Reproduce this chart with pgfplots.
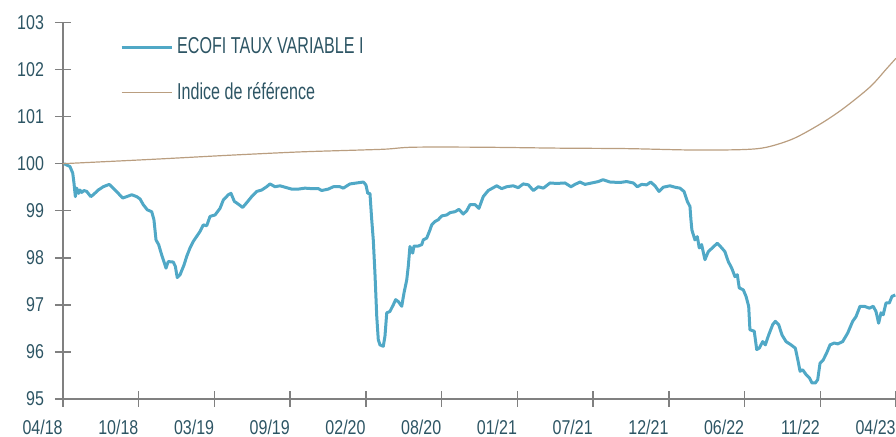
\documentclass[border=0pt]{standalone}
\usepackage{pgfplots}
\pgfplotsset{compat=1.18}
\usepackage{fontspec}
\setmainfont{Liberation Sans}[FakeStretch=0.8]
\newfontfamily\legfont{Liberation Sans}[FakeStretch=0.7]
\definecolor{txt}{RGB}{45,85,100}
\definecolor{ecofi}{RGB}{80,168,198}
\definecolor{indice}{RGB}{186,158,128}
\definecolor{axgray}{RGB}{128,128,128}
\begin{document}
\begin{tikzpicture}
\useasboundingbox (0,0) rectangle (448pt,218.5pt);
\begin{axis}[
  at={(31.5pt,19pt)}, anchor=south west,
  scale only axis, width=416.5pt, height=188.25pt,
  xmin=0, xmax=60, ymin=95, ymax=103,
  axis x line=bottom, axis y line=left,
  axis line style={axgray, line width=0.75pt, -},
  every tick/.style={axgray, line width=0.75pt},
  tick align=center, major tick length=8pt,
  ytick={95,96,...,103},
  xtick={0,5.4545,10.9091,16.3636,21.8182,27.2727,32.7273,38.1818,43.6364,49.0909,54.5455,60},
  xticklabels={04/18,10/18,03/19,09/19,02/20,08/20,01/21,07/21,12/21,06/22,11/22,04/23},
  /pgf/number format/assume math mode=true,
  ticklabel style={font=\fontsize{10}{12}\selectfont, text=txt},
  yticklabel style={anchor=east, xshift=-2pt},
  xticklabel style={anchor=north east, inner xsep=0pt, yshift=-3pt},
  legend style={at={(0.061,0.982)}, anchor=north west, draw=none, fill=none,
    font=\legfont\fontsize{11.5}{13}\selectfont, text=txt, row sep=9pt},
  legend cell align=left,
  legend image code/.code={\draw[#1] (0pt,0pt) -- (25pt,0pt);},
]
\addplot[ecofi, line width=1.5pt, line join=round] coordinates {
(0.07,100.00)(0.50,99.94)(0.70,99.80)(0.79,99.59)(0.89,99.30)(0.99,99.48)(1.13,99.37)(1.22,99.44)(1.35,99.39)(1.51,99.43)
(1.71,99.41)(2.00,99.30)(2.18,99.34)(2.54,99.44)(2.90,99.51)(3.33,99.56)(3.62,99.48)(3.98,99.37)(4.30,99.27)(4.59,99.30)
(4.95,99.34)(5.31,99.30)(5.55,99.25)(5.78,99.13)(6.07,99.02)(6.39,98.98)(6.55,98.81)(6.70,98.38)(6.89,98.28)(7.11,98.06)
(7.27,97.92)(7.42,97.78)(7.58,97.92)(7.94,97.91)(8.09,97.82)(8.23,97.58)(8.43,97.64)(8.72,97.85)(8.91,98.03)(9.15,98.21)
(9.39,98.35)(9.87,98.56)(10.11,98.70)(10.35,98.68)(10.59,98.88)(10.95,98.91)(11.31,99.05)(11.55,99.23)(11.91,99.34)(12.10,99.37)
(12.34,99.20)(12.63,99.14)(12.94,99.07)(13.23,99.17)(13.59,99.30)(13.95,99.41)(14.31,99.44)(14.67,99.51)(14.91,99.57)(15.27,99.51)
(15.63,99.53)(15.99,99.50)(16.47,99.46)(16.95,99.46)(17.43,99.48)(17.91,99.47)(18.39,99.47)(18.63,99.43)(19.11,99.46)(19.47,99.51)
(19.95,99.51)(20.19,99.48)(20.67,99.57)(21.16,99.59)(21.63,99.61)(21.82,99.55)(21.95,99.37)(22.11,99.37)(22.23,98.84)(22.35,98.38)
(22.47,97.67)(22.60,96.75)(22.71,96.26)(22.83,96.15)(23.07,96.12)(23.19,96.33)(23.32,96.83)(23.55,96.86)(23.79,97.00)(23.96,97.11)
(24.15,97.07)(24.40,96.97)(24.56,97.25)(24.76,97.53)(24.87,97.82)(24.99,98.24)(25.19,98.10)(25.28,98.25)(25.59,98.25)(25.84,98.28)
(25.95,98.38)(26.20,98.42)(26.43,98.59)(26.56,98.70)(26.79,98.77)(27.03,98.81)(27.28,98.89)(27.64,98.91)(27.88,98.96)(28.24,98.98)
(28.52,99.03)(28.83,98.93)(29.08,99.00)(29.32,99.13)(29.68,99.13)(29.96,99.05)(30.27,99.30)(30.63,99.43)(31.24,99.53)(31.60,99.47)
(31.96,99.51)(32.43,99.53)(32.79,99.49)(33.15,99.57)(33.52,99.55)(33.88,99.43)(34.24,99.51)(34.60,99.48)(35.08,99.59)(35.56,99.58)
(36.16,99.59)(36.59,99.51)(36.88,99.56)(37.24,99.61)(37.60,99.56)(38.08,99.59)(38.56,99.62)(38.90,99.66)(39.40,99.61)(40.12,99.60)
(40.60,99.62)(41.08,99.59)(41.37,99.51)(41.68,99.56)(42.04,99.55)(42.33,99.61)(42.64,99.53)(42.93,99.41)(43.24,99.50)(43.72,99.53)
(44.08,99.50)(44.44,99.48)(44.73,99.41)(44.97,99.20)(45.16,99.09)(45.23,98.81)(45.30,98.59)(45.52,98.38)(45.69,98.45)(45.83,98.21)
(46.00,98.28)(46.24,97.96)(46.48,98.13)(46.84,98.23)(47.13,98.31)(47.45,98.21)(47.68,98.13)(47.92,97.92)(48.17,97.78)(48.40,97.60)
(48.57,97.64)(48.71,97.36)(49.00,97.32)(49.20,97.18)(49.39,96.97)(49.48,96.47)(49.79,96.44)(49.97,96.05)(50.15,96.08)(50.40,96.22)
(50.59,96.15)(50.83,96.36)(51.12,96.58)(51.31,96.65)(51.55,96.58)(51.79,96.36)(52.08,96.22)(52.44,96.15)(52.75,96.08)(52.93,95.83)
(53.09,95.59)(53.28,95.62)(53.52,95.52)(53.76,95.45)(53.95,95.34)(54.19,95.34)(54.36,95.41)(54.53,95.76)(54.76,95.83)(55.01,95.98)
(55.25,96.15)(55.56,96.19)(55.80,96.17)(56.16,96.22)(56.52,96.40)(56.88,96.65)(57.12,96.75)(57.41,96.97)(57.72,96.97)(58.08,96.93)
(58.36,96.97)(58.56,96.86)(58.75,96.61)(58.92,96.83)(59.08,96.79)(59.28,97.04)(59.52,97.04)(59.71,97.18)(59.95,97.21)
};
\addlegendentry{ECOFI TAUX VARIABLE I}
\addplot[indice, line width=0.6pt, smooth] coordinates {
(0,100.00)(6.27,100.09)(12.03,100.18)(17.07,100.25)(21.39,100.29)(23.32,100.31)(25.23,100.35)(30.04,100.35)(35.80,100.33)
(40.60,100.32)(45.40,100.29)(49.00,100.30)(50.69,100.35)(52.60,100.53)(54.53,100.84)(56.20,101.17)(58.13,101.63)(59.33,102.02)(60,102.24)
};
\addlegendentry{Indice de référence}
\end{axis}
\end{tikzpicture}
\end{document}
